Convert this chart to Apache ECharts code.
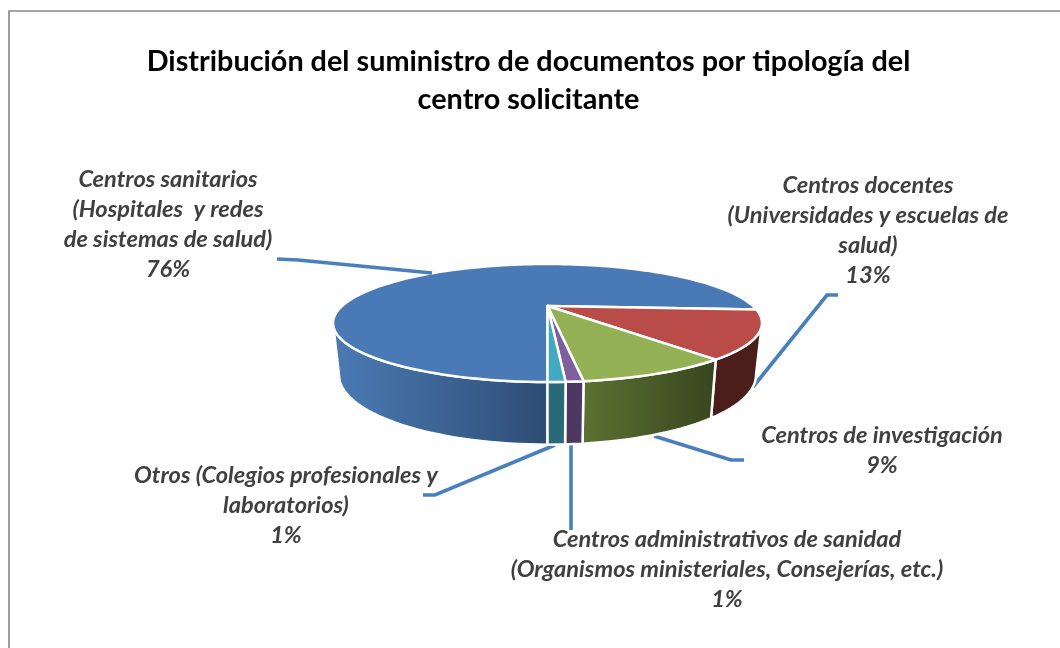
<!DOCTYPE html>
<html><head><meta charset="utf-8">
<style>html,body{margin:0;padding:0;background:#fff}#c{width:1060px;height:648px}</style>
<script src="https://cdn.jsdelivr.net/npm/echarts@6/dist/echarts.min.js"></script>
</head><body><div id="c"></div>
<script>
const titleLines = ['Distribución del suministro de documentos por tipología del', 'centro solicitante'];
const categories = [
  'Centros sanitarios\n(Hospitales  y redes\nde sistemas de salud)',
  'Centros docentes\n(Universidades y escuelas de\nsalud)',
  'Centros de investigación',
  'Centros administrativos de sanidad\n(Organismos ministeriales, Consejerías, etc.)',
  'Otros (Colegios profesionales y\nlaboratorios)'
];
const values = [76, 13, 9, 1, 1];

// styles and layout
const topColors = ['#4A7AB5', '#B94C49', '#94B155', '#7C5F9C', '#43A9C3'];
const sideColors = [['#4B7BB5', '#2E4C74'], ['#4B1D1B', '#4B1D1B'], ['#5C7232', '#38451F'], ['#4E3862', '#4E3862'], ['#2A6A78', '#2A6A78']];
const labelPos = [[168, 164], [868, 170], [882, 420], [727, 524], [286, 460]];
const leaders = [
  [[277, 259], [298, 260], [432, 273]],
  [[753, 387], [827, 295], [838, 295]],
  [[654, 436], [731, 460], [744, 460]],
  [[571, 445], [571, 530]],
  [[555, 445], [435, 495], [423, 495]]
];
const P = {cx: 547.5, cy: 306, B: 205.4, A: 54.1, k: -0.288, sx: 0.972, sy: 1.18, h: 49, startDeg: 180};
const FONT = 'Lato';

function rim(deg, bottom) {
  const t = deg * Math.PI / 180, u = Math.sin(t), v = -Math.cos(t), d = 1 + P.k * v;
  let x = P.B * u / d, y = P.A * v / d;
  if (bottom) { x *= P.sx; y = y * P.sy + P.h; }
  return [P.cx + x, P.cy + y];
}
function arc(a, b, bottom) {
  const n = Math.max(2, Math.ceil(Math.abs(b - a) / 2)), pts = [];
  for (let i = 0; i <= n; i++) pts.push(rim(a + (b - a) * i / n, bottom));
  return pts;
}
const total = values.reduce((s, x) => s + x, 0);
const silhouette = Math.acos(P.k) * 180 / Math.PI;

function renderItem(params, api) {
  const i = params.dataIndex, val = api.value(0);
  let before = 0;
  for (let j = 0; j < i; j++) before += values[j];
  const a = P.startDeg + before / total * 360, b = a + val / total * 360;
  const children = [];
  // side wall: visible between the right and left silhouettes
  for (const off of [0, 360]) {
    const s = Math.max(a - off, silhouette), e = Math.min(b - off, 360 - silhouette);
    if (e > s) {
      children.push({
        type: 'polygon', z2: 1,
        shape: {points: arc(s, e, false).concat(arc(e, s, true))},
        style: {
          fill: new echarts.graphic.LinearGradient(0, 0, 1, 0, [
            {offset: 0, color: sideColors[i][0]}, {offset: 1, color: sideColors[i][1]}]),
          stroke: '#fff', lineWidth: 2.5, lineJoin: 'round'
        }
      });
    }
  }
  children.push({
    type: 'polygon', z2: 2,
    shape: {points: [[P.cx, P.cy]].concat(arc(a, b, false))},
    style: {fill: topColors[i], stroke: '#fff', lineWidth: 2.5, lineJoin: 'round'}
  });
  children.push({
    type: 'polyline', z2: i === 0 ? 3 : 0,
    shape: {points: leaders[i]},
    style: {fill: null, stroke: '#4A7FBF', lineWidth: 3.6}
  });
  children.push({
    type: 'text', z2: 4,
    style: {
      text: categories[i] + '\n' + Math.round(val / total * 100) + '%',
      x: labelPos[i][0], y: labelPos[i][1], align: 'center', verticalAlign: 'top',
      fontFamily: FONT, fontStyle: 'italic', fontWeight: 'bold', fontSize: 23.6,
      lineHeight: 30, fill: '#404040'
    }
  });
  return {type: 'group', children};
}

const chart = echarts.init(document.getElementById('c'), null, {renderer: 'canvas'});
chart.setOption({
  animation: false,
  backgroundColor: '#fff',
  title: {
    text: titleLines.join('\n'), left: 523.5, top: 38, textAlign: 'center',
    textStyle: {fontFamily: FONT, fontWeight: 'bold', fontSize: 28.8, lineHeight: 38, color: '#000'}
  },
  graphic: [{
    type: 'polyline', silent: true,
    shape: {points: [[9, 648], [9, 11], [1060, 11]]},
    style: {fill: null, stroke: '#868686', lineWidth: 1.6}
  }],
  series: [{
    type: 'custom', coordinateSystem: 'none', silent: true,
    data: values.map(v => [v]), renderItem
  }]
});
</script></body></html>
